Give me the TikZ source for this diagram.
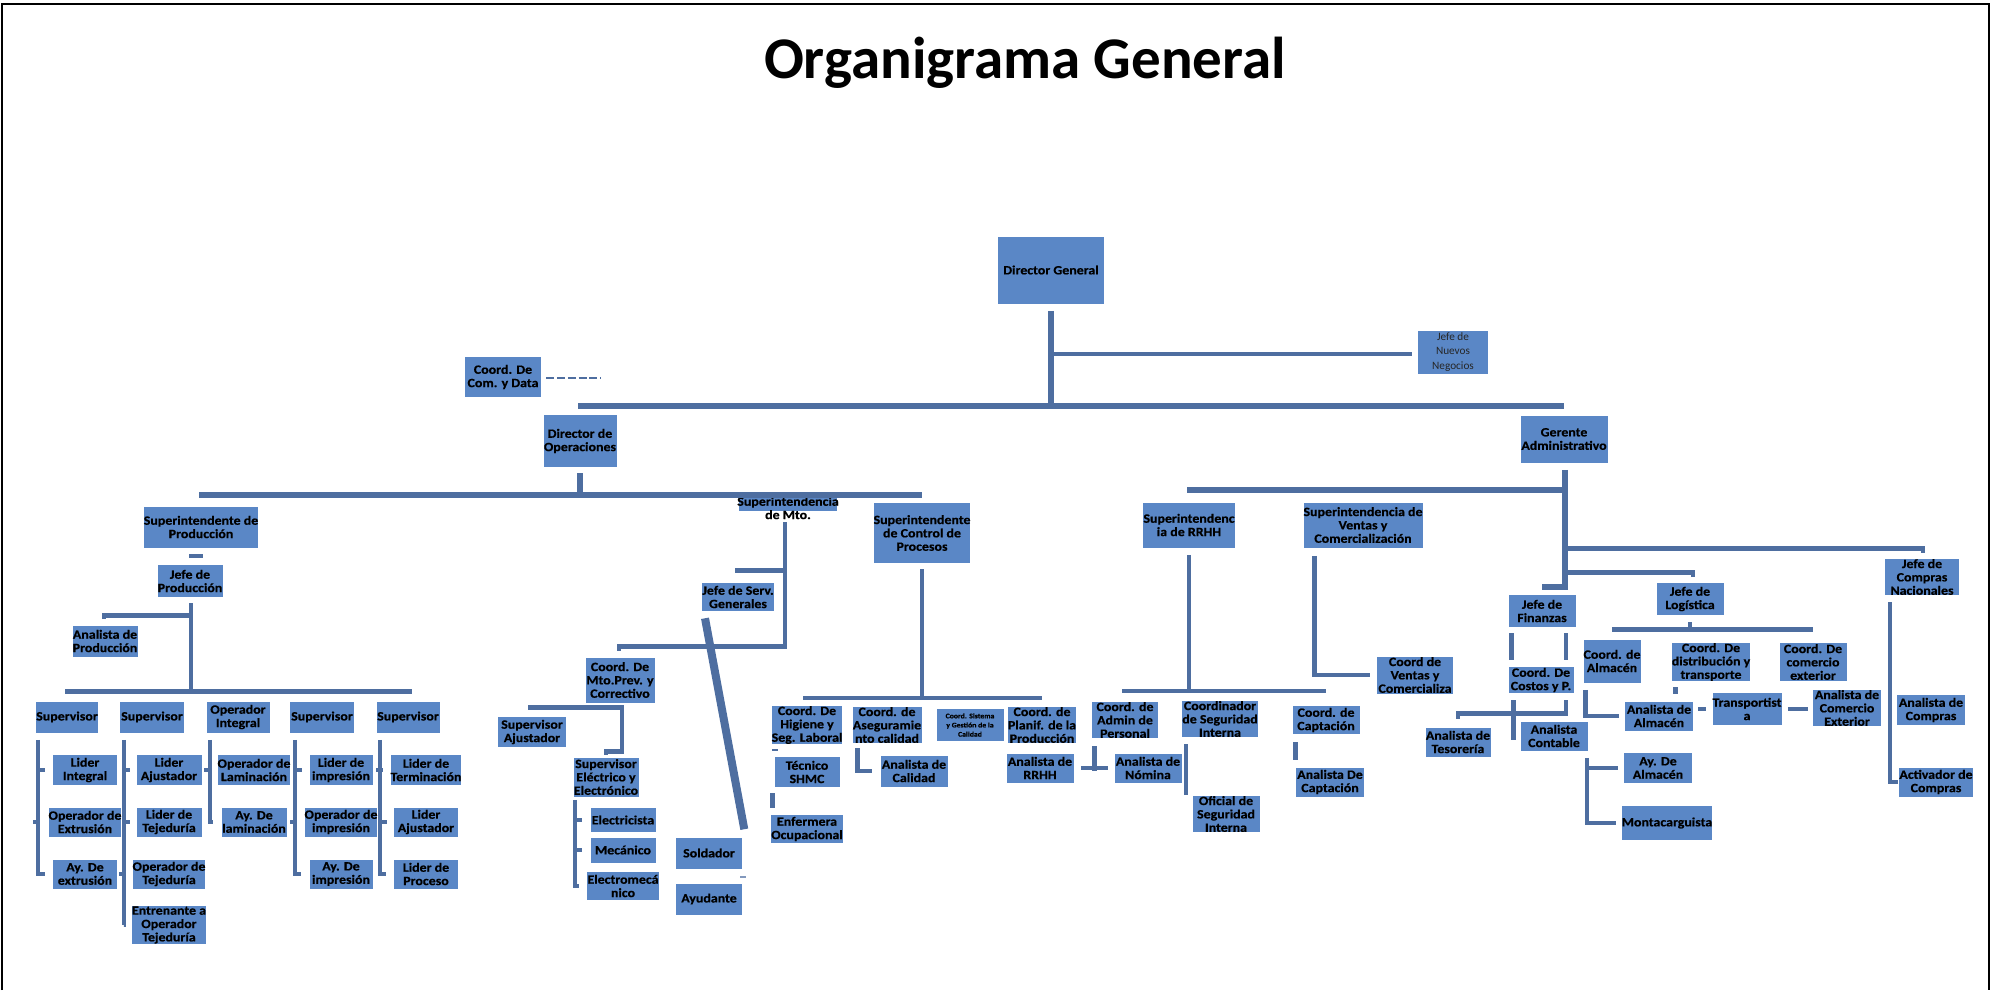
\documentclass[tikz,border=0pt]{standalone}
\usepackage{fontspec}
\setmainfont{Carlito}
\newfontfamily\boxfont{Carlito}[FakeStretch=1.1, FakeBold=0.5]
\definecolor{boxblue}{RGB}{90,135,198}
\definecolor{lnblue}{RGB}{78,110,160}
\tikzstyle{box}=[fill=boxblue, inner sep=0pt, align=center, text=black,
    font=\boxfont\bfseries\fontsize{9}{9.5}\selectfont]
\tikzstyle{bus}=[draw=lnblue, line width=1.4mm]
\tikzstyle{ln}=[draw=lnblue, line width=1.15mm]
\tikzstyle{thinln}=[draw=lnblue, line width=0.9mm]
\tikzstyle{fat}=[draw=lnblue, line width=2mm]
\tikzstyle{dashln}=[draw=lnblue, line width=0.5mm, dash pattern=on 2mm off 0.7mm]
\tikzset{w/.style={minimum width=#1*0.25mm}, h/.style={minimum height=#1*0.25mm}}

\begin{document}
\begin{tikzpicture}[x=0.25mm, y=-0.25mm]
    \useasboundingbox (0,0) rectangle (1992,990);
    \draw[line width=0.6mm] (2,990) -- (2,4) -- (1989,4) -- (1989,990);
    \node (title) [anchor=base, font=\bfseries\fontsize{42}{46}\selectfont] at (1025,78) {Organigrama General};

    \node (dg) [box, w=106, h=67] at (1051,270) {Director General};
    \node (nn) [box, w=70, h=43, font=\fontsize{8}{10}\selectfont, text=black!85] at (1453,352) {Jefe de\\Nuevos\\Negocios};
    \node (com) [box, w=76, h=40] at (503,377) {Coord. De\\Com. y Data};
    \node (do) [box, w=73, h=52] at (580,441) {Director de\\Operaciones};
    \node (ga) [box, w=87, h=47] at (1564,439) {Gerente\\Administrativo};

    \node (sp) [box, w=107, h=41] at (201,527) {Superintendente de\\Producción};
    \node (smto) [box, w=98, h=14] at (788,504) {};
    \node (smtot) [box, fill=none] at (788,508) {Superintendencia\\de Mto.};
    \node (scp) [box, w=93, h=60] at (922,533) {Superintendente\\de Control de\\Procesos};
    \node (srh) [box, w=86, h=45] at (1189,525) {Superintendenc\\ia de RRHH};
    \node (svc) [box, w=119, h=45] at (1363,525) {Superintendencia de\\Ventas y\\Comercialización};

    \node (jp) [box, w=65, h=32] at (190,581) {Jefe de\\Producción};
    \node (ap) [box, w=65, h=31] at (105,641) {Analista de\\Producción};
    \node (s1) [box, w=62, h=31] at (67,717) {Supervisor};
    \node (s2) [box, w=64, h=31] at (152,717) {Supervisor};
    \node (oi) [box, w=63, h=31] at (238,717) {Operador\\Integral};
    \node (s3) [box, w=64, h=31] at (322,717) {Supervisor};
    \node (s4) [box, w=63, h=31] at (408,717) {Supervisor};

    \node (c11) [box, w=64, h=30] at (85,770) {Lider\\Integral};
    \node (c12) [box, w=64, h=29] at (85,822) {Operador de\\Extrusión};
    \node (c13) [box, w=64, h=29] at (85,874) {Ay. De\\extrusión};
    \node (c21) [box, w=65, h=30] at (169,770) {Lider\\Ajustador};
    \node (c22) [box, w=65, h=29] at (169,822) {Lider de\\Tejeduría};
    \node (c23) [box, w=65, h=29] at (169,874) {Operador de\\Tejeduría};
    \node (c24) [box, w=58, h=32] at (169,925) {Entrenante a\\Operador\\Tejeduría};
    \node (c31) [box, w=65, h=30] at (254,770) {Operador de\\Laminación};
    \node (c32) [box, w=65, h=29] at (254,822) {Ay. De\\laminación};
    \node (c41) [box, w=63, h=30] at (341,770) {Lider de\\impresión};
    \node (c42) [box, w=63, h=29] at (341,822) {Operador de\\impresión};
    \node (c43) [box, w=63, h=29] at (341,874) {Ay. De\\impresión};
    \node (c51) [box, w=64, h=30] at (426,770) {Lider de\\Terminación};
    \node (c52) [box, w=64, h=29] at (426,822) {Lider\\Ajustador};
    \node (c53) [box, w=64, h=29] at (426,874) {Lider de\\Proceso};

    \node (jsg) [box, w=67, h=28] at (738,597) {Jefe de Serv.\\Generales};
    \node (cm) [box, w=69, h=45] at (620,680) {Coord. De\\Mto.Prev. y\\Correctivo};
    \node (sa) [box, w=68, h=30] at (532,732) {Supervisor\\Ajustador};
    \node (se) [box, w=65, h=39] at (606,777) {Supervisor\\Eléctrico y\\Electrónico};
    \node (el) [box, w=65, h=24] at (623,820) {Electricista};
    \node (me) [box, w=65, h=25] at (623,850) {Mecánico};
    \node (em) [box, w=65, h=28] at (623,886) {Electromecá\\nico};
    \node (sold) [box, w=66, h=31] at (709,853) {Soldador};
    \node (ayu) [box, w=66, h=31] at (709,899) {Ayudante};

    \node (hig) [box, w=65, h=35] at (807,725) {Coord. De\\Higiene y\\Seg. Laboral};
    \node (tec) [box, w=65, h=30] at (807,772) {Técnico\\SHMC};
    \node (enf) [box, w=63, h=28] at (807,829) {Enfermera\\Ocupacional};
    \node (ase) [box, w=69, h=35] at (887,725) {Coord. de\\Aseguramie\\nto calidad};
    \node (acal) [box, w=67, h=31] at (914,771) {Analista de\\Calidad};
    \node (sgc) [box, w=67, h=32, font=\boxfont\bfseries\fontsize{5}{6.5}\selectfont] at (970,725) {Coord. Sistema\\y Gestión de la\\Calidad};
    \node (pla) [box, w=63, h=34] at (1042,725) {Coord. de\\Planif. de la\\Producción};
    \node (arh) [box, w=67, h=29] at (1040,768) {Analista de\\RRHH};

    \node (adm) [box, w=66, h=29] at (1125,720) {Coord. de\\Admin de\\Personal};
    \node (seg) [box, w=69, h=32] at (1220,719) {Coordinador\\de Seguridad\\Interna};
    \node (cap) [box, w=67, h=28] at (1326,720) {Coord. de\\Captación};
    \node (anom) [box, w=67, h=29] at (1148,768) {Analista de\\Nómina};
    \node (ofi) [box, w=67, h=32] at (1226,814) {Oficial de\\Seguridad\\Interna};
    \node (acap) [box, w=68, h=29] at (1330,782) {Analista De\\Captación};
    \node (cvc) [box, w=76, h=37] at (1415,675) {Coord de\\Ventas y\\Comercializa};

    \node (jf) [box, w=67, h=32] at (1542,611) {Jefe de\\Finanzas};
    \node (jl) [box, w=67, h=32] at (1690,599) {Jefe de\\Logística};
    \node (jc) [box, w=74, h=36] at (1922,577) {Jefe de\\Compras\\Nacionales};
    \node (cos) [box, w=65, h=26] at (1541,680) {Coord. De\\Costos y P.};
    \node (tes) [box, w=65, h=29] at (1458,742) {Analista de\\Tesorería};
    \node (acon) [box, w=67, h=29] at (1554,736) {Analista\\Contable};
    \node (calm) [box, w=55, h=43] at (1612,661) {Coord. de\\Almacén};
    \node (dist) [box, w=78, h=38] at (1711,662) {Coord. De\\distribución y\\transporte};
    \node (cext) [box, w=67, h=38] at (1813,662) {Coord. De\\comercio\\exterior};
    \node (aalm) [box, w=68, h=29] at (1659,716) {Analista de\\Almacén};
    \node (trans) [box, w=68, h=32] at (1747,709) {Transportist\\a};
    \node (acex) [box, w=68, h=33] at (1847,708) {Analista de\\Comercio\\Exterior};
    \node (ayal) [box, w=68, h=30] at (1658,768) {Ay. De\\Almacén};
    \node (mont) [box, w=86, h=34] at (1667,823) {Montacarguista};
    \node (acom) [box, w=68, h=30] at (1931,710) {Analista de\\Compras};
    \node (act) [box, w=67, h=29] at (1936,782) {Activador de\\Compras};

    \draw[bus] (do.north) ++(-2,-9) coordinate (mb) -- (mb -| ga.north);
    \draw[bus] (dg.south) ++(0,7) -- (dg.south |- mb);
    \draw[ln] (nn.west) ++(-6,2) coordinate (t1) -- (t1 -| dg.south);
    \draw[dashln] (com.east) ++(5,1) -- ++(55,0);

    \draw[bus] (sp.north) ++(-2,-11) coordinate (b1) -- (b1 -| scp.north);
    \draw[bus] (do.south) ++(0,6) -- (do.south |- b1);
    \draw[thinln] (sp.south) ++(-12,8) -- ++(14,0);
    \draw[ln] (s1.north) ++(-2,-10) coordinate (b2) -- ([xshift=1mm]b2 -| s4.north);
    \draw[ln] (jp.south) ++(1,6) coordinate (t2) -- (t2 |- b2);
    \draw[ln] (ap.north) ++(-1,-6) -- ++(0,-4) coordinate (t3) -- (t3 -| t2);
    \draw[thinln] (s1.south west) ++(2,7) |- ([xshift=-2mm]c13.west) (c11.west) ++(-15,0) -- ++(7,0) (c12.west) ++(-15,0) -- ++(7,0);
    \draw[thinln] (s2.south west) ++(4,7) |- ([xshift=-2mm]c24.west) (c21.west) ++(-13,0) -- ++(7,0) (c22.west) ++(-13,0) -- ++(7,0) (c23.west) ++(-13,0) -- ++(7,0);
    \draw[thinln] (oi.south west) ++(4,7) |- ([xshift=-2mm]c32.west) (c31.west) ++(-13,0) -- ++(7,0);
    \draw[thinln] (s3.south west) ++(5,7) |- ([xshift=-2mm]c43.west) (c41.west) ++(-14,0) -- ++(7,0) (c42.west) ++(-14,0) -- ++(7,0);
    \draw[thinln] (s4.south west) ++(4,7) |- ([xshift=-2mm]c53.west) (c51.west) ++(-14,0) -- ++(7,0) (c52.west) ++(-14,0) -- ++(7,0);

    \path (cm.north) ++(-1,-11) coordinate (t5);
    \draw[ln] (smto.south) ++(-3,11) coordinate (t4) |- (t5) -- ++(0,5);
    \draw[ln] (jsg.north) ++(-3,-12) coordinate (t6) -- (t6 -| t4);
    \draw[fat] (jsg.south west) ++(3,7) -- ([xshift=0.5mm,yshift=2mm]sold.north east);
    \draw[draw=lnblue!70, line width=0.4mm] (sold.south east) ++(-2,8) -- ++(6,0);
    \draw[ln] (sa.north) ++(-4,-9) -- ++(94,0) -- ++(0,44) -| ([yshift=0.5mm]se.north);
    \draw[thinln] (se.south west) ++(2,3) |- ([xshift=-2mm]em.west) (el.west) ++(-15,0) -- ++(7,0) (me.west) ++(-15,0) -- ++(7,0);

    \draw[ln] (hig.north) ++(-4,-8) coordinate (b3) -- (b3 -| pla.north);
    \draw[ln] (scp.south) ++(0,6) -- (scp.south |- b3);
    \draw[draw=lnblue, line width=0.5mm] (hig.south west) ++(1,6) -- ++(6,0);
    \draw[ln] (tec.south west) ++(-2,6) -- ++(0,15);
    \draw[ln] (ase.south west) ++(5,5) |- ([xshift=-2mm]acal.west);

    \draw[ln] (adm.north) ++(-3,-11) coordinate (b4) -- (b4 -| cap.north);
    \draw[ln] (srh.south) ++(0,7) -- (srh.south |- b4);
    \draw[ln] (adm.south west) ++(3,8) -- ++(0,25) (arh.east) ++(7,0) -- ([xshift=-1.5mm]anom.west);
    \draw[thinln] (seg.south west) ++(4,7) -- ++(0,51);
    \draw[ln] (cap.south west) ++(3,8) -- ++(0,18);
    \draw[ln] (svc.south west) ++(11,8) |- ([xshift=-1.75mm]cvc.west);

    \draw[bus] (ga.south) ++(1,7) coordinate (t9) |- ([yshift=2mm]jf.north);
    \draw[bus] (srh.north) ++(-2,-12) coordinate (t10) -- (t10 -| t9);
    \draw[ln] (jc.north) ++(1,-6) -- ++(0,-4) coordinate (t11) -- (t11 -| t9);
    \draw[ln] (jl.north) ++(3,-6) -- ++(0,-4) coordinate (t12) -- (t12 -| t9);
    \draw[ln] (jf.south west) ++(3,6) -- ++(0,27) (jf.south east) ++(-10,6) -- ++(0,27);
    \draw[ln] (cos.south west) ++(5,7) -- ++(0,40);
    \draw[ln] (cos.south east) ++(-8,7) -- ++(0,13) -| ([yshift=2mm]tes.north);
    \draw[ln] (jl.south) ++(0,7) -- ++(0,8);
    \draw[ln] (calm.north) ++(0,-10) coordinate (b5) -- (b5 -| cext.north);
    \draw[ln] (calm.south west) ++(2,7) |- ([xshift=-1.5mm]aalm.west);
    \draw[ln] (dist.south west) ++(4,6) -- ++(0,7);
    \draw[ln] (trans.west) ++(-14,0) -- ++(8,0);
    \draw[ln] (trans.east) ++(6,0) -- ++(20,0);
    \draw[ln] (acon.south east) ++(-1,7) |- ([xshift=-1.5mm]mont.west) (ayal.west) ++(-37,0) -- ++(31,0);
    \draw[thinln] (jc.south west) ++(5,7) |- ([xshift=-0.25mm]act.west);
\end{tikzpicture}
\end{document}
